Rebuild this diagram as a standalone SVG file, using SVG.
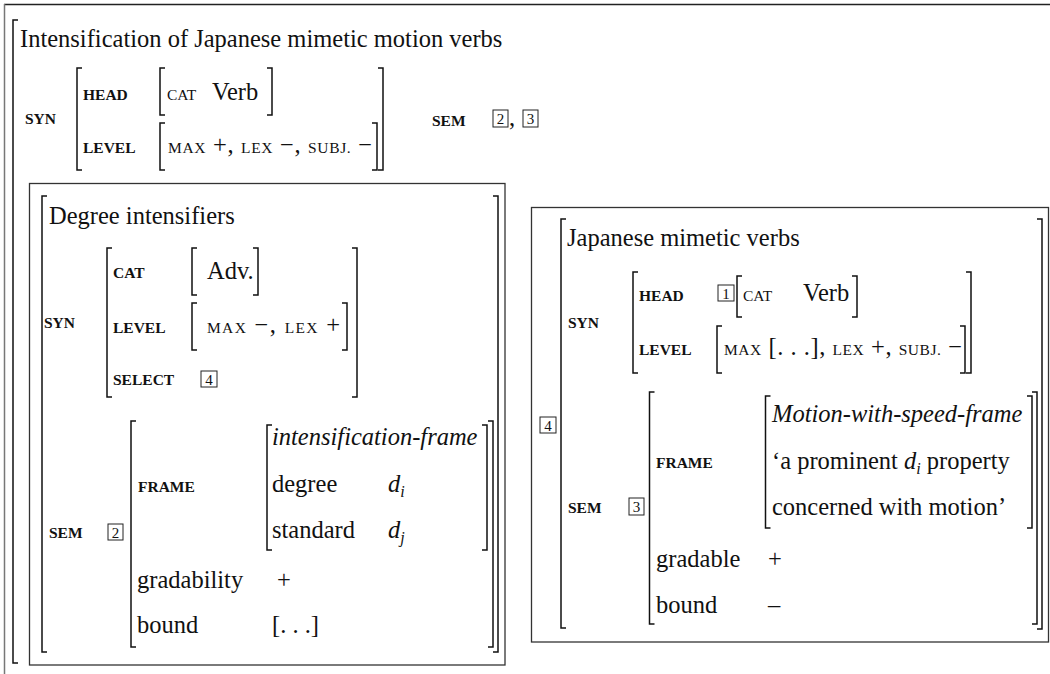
<svg xmlns="http://www.w3.org/2000/svg" width="1050" height="674" viewBox="0 0 1050 674">
<style>
 .t{font-family:"Liberation Serif","Times New Roman",serif;font-size:24.5px;fill:#111}
 .it{font-style:italic}
 .lb{font-family:"Liberation Serif","Times New Roman",serif;font-size:15.5px;font-weight:bold;fill:#111}
 .sc{font-size:15.5px}
 .sub{font-size:16px;font-style:italic}
 .br{fill:none;stroke:#111;stroke-width:1.5}
 .tag{fill:none;stroke:#222;stroke-width:1}
 .tn{font-family:"Liberation Serif","Times New Roman",serif;font-size:15px;fill:#111;text-anchor:middle}
 .box{fill:none;stroke:#333;stroke-width:1.3}
</style>
<rect width="1050" height="674" fill="#fff"/>
<g id="frame">
 <path fill="none" stroke="#222" stroke-width="1.5" d="M4,4.5 H1050"/>
 <path fill="none" stroke="#777" stroke-width="1.5" d="M4.5,4 V674"/>
</g>

<g id="avm-top">
 <path class="br" d="M18,20 H13 V663 H18"/>
 <text class="t" x="20" y="47">Intensification of Japanese mimetic motion verbs</text>
 <text class="lb" x="25" y="124">SYN</text>
 <path class="br" d="M82,68 H77 V170 H82 M378,68 H383 V170 H378"/>
 <text class="lb" x="83" y="100">HEAD</text>
 <path class="br" d="M165,68 H160 V115 H165 M267,68 H272 V115 H267"/>
 <text class="t" x="167" y="100"><tspan class="sc">CAT</tspan><tspan x="212">Verb</tspan></text>
 <text class="lb" x="83" y="153">LEVEL</text>
 <path class="br" d="M165,123 H160 V170 H165 M372,123 H377 V170 H372"/>
 <text class="t" x="168" y="153" textLength="204"><tspan class="sc">MAX</tspan> +, <tspan class="sc">LEX</tspan> −, <tspan class="sc">SUBJ.</tspan> −</text>
 <text class="lb" x="432" y="126">SEM</text>
 <rect class="tag" x="493" y="110" width="15" height="17"/>
 <text class="tn" x="500.5" y="124">2</text>
 <text class="t" x="509" y="126">,</text>
 <rect class="tag" x="523" y="110" width="15" height="17"/>
 <text class="tn" x="530.5" y="124">3</text>
</g>

<g id="node-degree-intensifiers">
 <rect class="box" x="29.5" y="183.5" width="475.5" height="481.5"/>
 <path class="br" d="M47,196 H42 V652 H47 M493,196 H498 V652 H493"/>
 <text class="t" x="49" y="224">Degree intensifiers</text>
 <text class="lb" x="44" y="328">SYN</text>
 <path class="br" d="M112,248 H107 V397 H112 M352,248 H357 V397 H352"/>
 <text class="lb" x="113" y="278">CAT</text>
 <path class="br" d="M197,248 H192 V295 H197 M253,248 H258 V295 H253"/>
 <text class="t" x="207" y="279">Adv.</text>
 <text class="lb" x="113" y="333">LEVEL</text>
 <path class="br" d="M197,303 H192 V350 H197 M342,303 H347 V350 H342"/>
 <text class="t" x="207" y="333" textLength="133"><tspan class="sc">MAX</tspan>  −, <tspan class="sc">LEX</tspan>  +</text>
 <text class="lb" x="113" y="385">SELECT</text>
 <rect class="tag" x="201" y="371" width="16" height="16"/>
 <text class="tn" x="209" y="385">4</text>
 <text class="lb" x="49" y="538">SEM</text>
 <rect class="tag" x="108" y="524" width="15" height="16"/>
 <text class="tn" x="115.5" y="538">2</text>
 <path class="br" d="M136,421 H131 V647 H136 M488,421 H493 V647 H488"/>
 <text class="lb" x="138" y="492">FRAME</text>
 <path class="br" d="M272,425 H267 V550 H272 M482,425 H487 V550 H482"/>
 <text class="t it" x="272" y="445">intensification-frame</text>
 <text class="t" x="272" y="492">degree</text>
 <text class="t it" x="388" y="492">d<tspan class="sub" dy="5">i</tspan></text>
 <text class="t" x="272" y="538">standard</text>
 <text class="t it" x="388" y="538">d<tspan class="sub" dy="5">j</tspan></text>
 <text class="t" x="137" y="588">gradability</text>
 <text class="t" x="277" y="588">+</text>
 <text class="t" x="137" y="633">bound</text>
 <text class="t" x="272" y="633">[. . .]</text>
</g>

<g id="node-japanese-mimetic-verbs">
 <rect class="box" x="531.5" y="207.5" width="517" height="434.5"/>
 <rect class="tag" x="540" y="417" width="16" height="16"/>
 <text class="tn" x="548" y="431">4</text>
 <path class="br" d="M566,219 H561 V628 H566 M1037,219 H1042 V629 H1037"/>
 <text class="t" x="567" y="246">Japanese mimetic verbs</text>
 <text class="lb" x="568" y="328">SYN</text>
 <path class="br" d="M638,272 H633 V373 H638 M966,272 H971 V373 H966"/>
 <text class="lb" x="639" y="301">HEAD</text>
 <rect class="tag" x="718" y="285" width="16" height="16"/>
 <text class="tn" x="726" y="299">1</text>
 <path class="br" d="M742,276 H737 V317 H742 M852,276 H857 V317 H852"/>
 <text class="t" x="743" y="301"><tspan class="sc">CAT</tspan><tspan x="803">Verb</tspan></text>
 <text class="lb" x="639" y="355">LEVEL</text>
 <path class="br" d="M722,326 H717 V373 H722 M960,326 H965 V373 H960"/>
 <text class="t" x="724" y="355" textLength="238"><tspan class="sc">MAX</tspan> [. . .], <tspan class="sc">LEX</tspan> +, <tspan class="sc">SUBJ.</tspan> −</text>
 <text class="lb" x="568" y="513">SEM</text>
 <rect class="tag" x="629" y="498" width="15" height="17"/>
 <text class="tn" x="636.5" y="512">3</text>
 <path class="br" d="M654.5,392 H649.5 V624 H654.5 M1032,392 H1037 V624 H1032"/>
 <text class="lb" x="656" y="468">FRAME</text>
 <path class="br" d="M770.5,396 H765.5 V528 H770.5 M1027,396 H1032 V528 H1027"/>
 <text class="t it" x="772" y="422">Motion-with-speed-frame</text>
 <text class="t" x="772" y="469">‘a prominent <tspan class="it">d</tspan><tspan class="sub" dy="5">i</tspan><tspan dy="-5"> property</tspan></text>
 <text class="t" x="772" y="515">concerned with motion’</text>
 <text class="t" x="656" y="567">gradable</text>
 <text class="t" x="768" y="567">+</text>
 <text class="t" x="656" y="613">bound</text>
 <text class="t" x="768" y="613">–</text>
</g>
<g id="connectors"/>
</svg>
